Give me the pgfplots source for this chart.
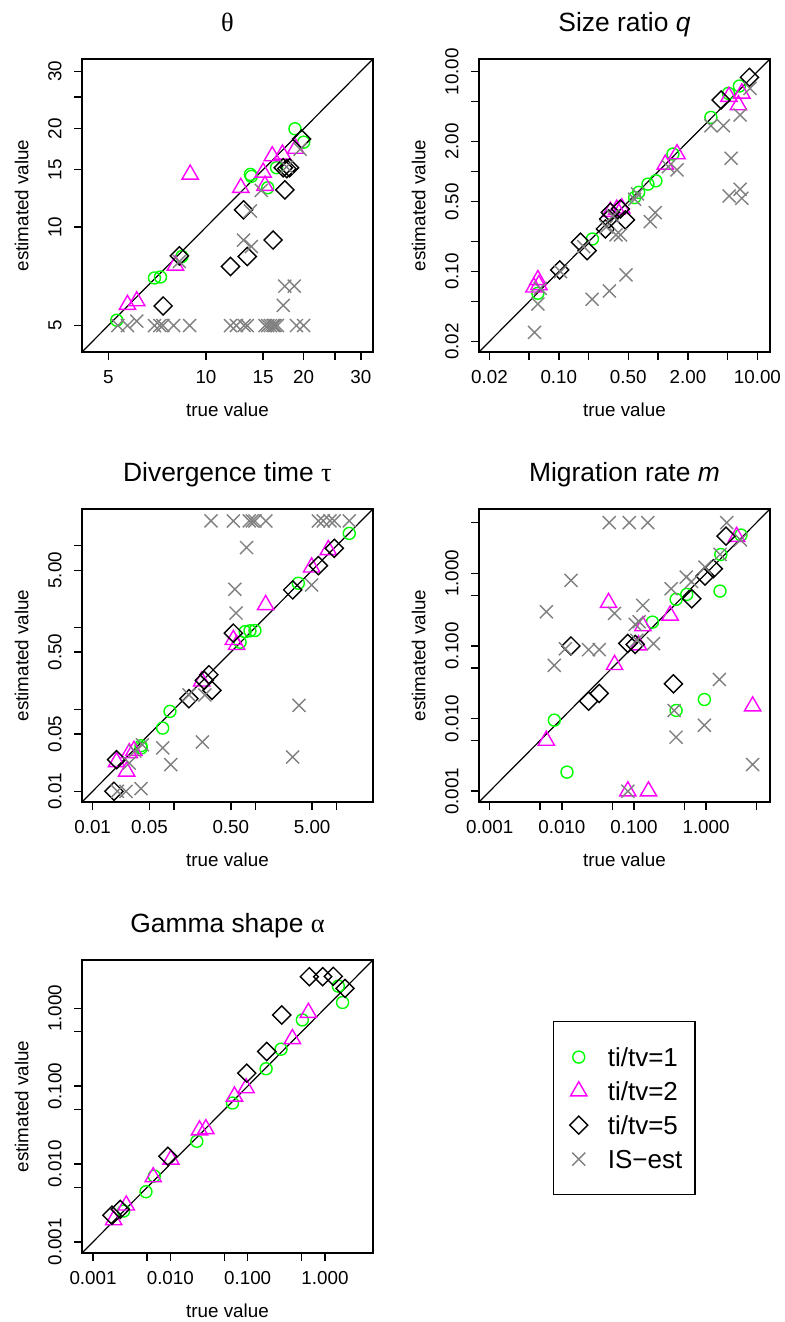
\documentclass[border=0pt]{standalone}
\usepackage{fontspec}
\setmainfont{Liberation Sans}
\newfontfamily\greekfont{Liberation Serif}
\usepackage{pgfplots}
\pgfplotsset{compat=1.18}

\definecolor{rgreen}{RGB}{0,255,0}
\definecolor{rmagenta}{RGB}{255,0,255}
\definecolor{rgrey}{RGB}{128,128,128}

\newcommand\ticksize{\fontsize{9.4}{11}\selectfont}
\newcommand\titlesize{\fontsize{13.2}{15}\selectfont}

\pgfplotsset{
  every axis/.append style={
    scale only axis, width=145.5pt, height=146.5pt,
    xmode=log, ymode=log,
    xminorticks=false, yminorticks=false,
    axis line style={line width=0.7pt},
    tick align=outside, tick pos=left,
    major tick length=4pt,
    every tick/.style={black, line width=0.7pt},
    tick label style={font=\ticksize, inner sep=0pt},
    xticklabel style={anchor=north},
    yticklabel style={rotate=90, anchor=south},
    xticklabel shift=5pt,
    yticklabel shift=6pt,
    label style={font=\ticksize},
    xlabel={true value}, ylabel={estimated value},
    xlabel style={at={(axis description cs:0.5,-0.2197)}, anchor=base},
    ylabel style={at={(axis description cs:-0.1842,0.5)}, anchor=base},
    every axis title shift=0pt,
    title style={at={(axis description cs:0.5,1.0952)}, anchor=base, font=\titlesize},
  },
  diag/.style={black, line width=0.6pt, no marks},
  cA/.style={only marks, mark=o, mark size=3pt, color=rgreen, line width=0.7pt},
  cB/.style={only marks, mark=triangle, mark size=4.7pt, color=rmagenta, line width=0.7pt},
  cC/.style={only marks, mark=square, mark size=3.2pt, mark options={rotate=45}, color=black, line width=0.7pt},
  cD/.style={only marks, mark=x, mark size=4.6pt, color=rgrey, line width=0.7pt},
}

\begin{document}
\begin{tikzpicture}
\useasboundingbox (0,0) rectangle (392pt,661pt);

% theta
\begin{axis}[at={(41pt,485pt)}, anchor=south west,
  xmin=4.15, xmax=32.7, ymin=4.15, ymax=32.7,
  xtick={5,10,15,20,25,30}, xticklabels={5,10,15,20,,30},
  ytick={5,10,15,20,25,30}, yticklabels={5,10,15,20,,30},
  title={{\greekfont θ}}]
\addplot[diag] coordinates {(1,1) (100,100)};
\addplot[cA] coordinates {(5.31,5.19) (6.94,6.99) (7.24,7.04) (8.43,8.13) (13.7,14.5) (13.8,14.3) (15.5,13.2) (16.5,15.2) (18.8,20.0) (20.0,18.2)};
\addplot[cB] coordinates {(5.73,5.79) (6.12,5.94) (8.05,7.64) (8.94,14.5) (12.8,13.2) (15.0,14.7) (15.2,13.4) (16.0,16.5) (17.2,16.7) (18.9,17.4)};
\addplot[cC] coordinates {(7.38,5.74) (8.28,8.17) (11.9,7.58) (13.05,11.3) (13.4,8.13) (16.1,9.13) (17.5,13.0) (17.3,15.2) (17.75,15.1) (18.1,15.2) (19.7,18.6)};
\addplot[cD] coordinates {(5.35,5.0) (5.73,5.0) (6.12,5.16) (6.94,5.0) (7.21,5.0) (7.37,5.0) (7.95,5.0) (8.9,5.0) (11.9,5.0) (12.4,5.0) (13.1,5.0) (13.4,5.0) (15.2,5.0) (15.5,5.0) (15.8,5.0) (16.1,5.0) (16.3,5.0) (16.6,5.0) (19.0,5.0) (20.0,5.0) (17.3,5.76) (17.5,6.6) (18.7,6.6) (13.05,9.13) (13.8,8.72) (13.7,11.2) (8.28,7.85) (14.8,12.95) (17.7,15.3) (19.5,17.3)};
\end{axis}

% size ratio q
\begin{axis}[at={(239.5pt,485pt)}, anchor=south west,
  xmin=0.0157, xmax=13.4, ymin=0.0157, ymax=13.4,
  xtick={0.02,0.05,0.1,0.2,0.5,1,2,5,10}, xticklabels={0.02,,0.10,,0.50,,2.00,,10.00},
  ytick={0.02,0.05,0.1,0.2,0.5,1,2,5,10}, yticklabels={0.02,,0.10,,0.50,,2.00,,10.00},
  title={Size ratio \textit{q}}]
\addplot[diag] coordinates {(0.001,0.001) (100,100)};
\addplot[cA] coordinates {(0.0615,0.0607) (0.218,0.212) (0.58,0.55) (0.637,0.621) (0.79,0.75) (0.95,0.81) (1.41,1.50) (3.40,3.49) (5.11,6.07) (6.59,7.19)};
\addplot[cB] coordinates {(0.0561,0.0697) (0.0615,0.0826) (0.063,0.0736) (0.330,0.398) (0.383,0.418) (0.431,0.43) (1.18,1.18) (1.55,1.50) (5.17,5.62) (6.44,4.64) (6.97,6.07)};
\addplot[cC] coordinates {(0.102,0.104) (0.165,0.197) (0.193,0.162) (0.294,0.267) (0.318,0.336) (0.330,0.392) (0.417,0.423) (0.468,0.329) (4.31,5.21) (8.32,8.78)};
\addplot[cD] coordinates {(0.0569,0.0247) (0.0615,0.0475) (0.216,0.0529) (0.323,0.064) (0.475,0.0926) (0.377,0.233) (0.417,0.233) (0.834,0.316) (0.935,0.389) (5.2,0.571) (6.7,0.665) (6.97,0.541) (5.43,1.36) (3.4,2.88) (4.55,2.88) (6.7,3.69) (8.44,6.81) (1.55,1.04) (1.27,1.12) (0.58,0.53) (0.104,0.10) (0.178,0.178) (0.30,0.28) (0.065,0.068) (0.35,0.36) (0.62,0.60)};
\end{axis}

% divergence time tau
\begin{axis}[at={(41pt,260pt)}, anchor=south west,
  xmin=0.0074, xmax=28, ymin=0.0074, ymax=28,
  xtick={0.01,0.05,0.1,0.5,1,5,10}, xticklabels={0.01,0.05,,0.50,,5.00,},
  ytick={0.01,0.05,0.1,0.5,1,5,10}, yticklabels={0.01,0.05,,0.50,,5.00,},
  title={Divergence time {\greekfont τ}}]
\addplot[diag] coordinates {(0.001,0.001) (100,100)};
\addplot[cA] coordinates {(0.0393,0.0360) (0.0398,0.0339) (0.0726,0.0591) (0.0893,0.0945) (0.65,0.66) (0.75,0.89) (0.86,0.91) (0.99,0.919) (3.38,3.47) (14.3,14.1)};
\addplot[cB] coordinates {(0.0197,0.0228) (0.0262,0.0175) (0.0282,0.0293) (0.0322,0.0313) (0.219,0.220) (0.537,0.708) (0.589,0.615) (1.34,1.89) (4.93,5.44) (7.9,8.85)};
\addplot[cC] coordinates {(0.0183,0.0100) (0.0197,0.0243) (0.153,0.135) (0.236,0.226) (0.269,0.265) (0.293,0.171) (0.537,0.853) (2.88,2.88) (5.96,5.70) (9.35,9.27)};
\addplot[cD] coordinates {(0.285,20) (0.537,20) (0.843,20) (0.918,20) (0.99,20) (1.35,20) (5.96,20) (6.85,20) (8.28,20) (9.35,20) (14.3,20) (0.782,9.45) (0.56,2.93) (0.58,1.50) (4.93,3.31) (3.44,0.112) (2.88,0.0262) (0.223,0.040) (0.0726,0.0339) (0.0913,0.0211) (0.0393,0.0108) (0.0257,0.0100) (0.0201,0.0100) (0.0282,0.0221) (0.153,0.150) (0.24,0.15) (0.041,0.037) (0.033,0.031)};
\end{axis}

% migration rate m
\begin{axis}[at={(239.5pt,260pt)}, anchor=south west,
  xmin=0.00071, xmax=7.7, ymin=0.00071, ymax=7.7,
  xtick={0.001,0.005,0.01,0.05,0.1,0.5,1,5}, xticklabels={0.001,,0.010,,0.100,,1.000,},
  ytick={0.001,0.005,0.01,0.05,0.1,0.5,1,5}, yticklabels={0.001,,0.010,,0.100,,1.000,},
  title={Migration rate \textit{m}}]
\addplot[diag] coordinates {(0.0001,0.0001) (100,100)};
\addplot[cA] coordinates {(0.00786,0.00951) (0.01178,0.00183) (0.1806,0.213) (0.384,0.438) (0.384,0.01294) (0.539,0.513) (0.947,0.0183) (1.56,0.570) (1.6,1.82) (3.05,3.37)};
\addplot[cB] coordinates {(0.00609,0.00499) (0.0444,0.394) (0.0538,0.0551) (0.0822,0.001) (0.159,0.001) (0.1156,0.1028) (0.1328,0.188) (0.317,0.264) (2.65,3.20) (4.42,0.0148)};
\addplot[cC] coordinates {(0.01336,0.100) (0.02347,0.01738) (0.03296,0.02217) (0.0822,0.1084) (0.1039,0.105) (0.3526,0.0301) (0.632,0.447) (0.968,0.918) (1.26,1.158) (1.89,3.26)};
\addplot[cD] coordinates {(0.0454,5) (0.0858,5) (0.1556,5) (1.93,5) (0.01336,0.80) (0.00609,0.296) (0.0538,0.281) (0.1328,0.362) (0.00786,0.054) (0.0112,0.0915) (0.0235,0.089) (0.033,0.089) (0.104,0.198) (0.118,0.215) (0.1864,0.108) (0.327,0.614) (0.53,0.889) (0.63,0.77) (0.968,1.22) (1.56,1.82) (3.0,2.9) (1.53,0.0346) (0.947,0.00812) (0.384,0.00555) (0.36,0.0129) (4.42,0.00233) (0.0822,0.001) (0.11,0.12)};
\end{axis}

% gamma shape alpha, with the legend
\begin{axis}[at={(41pt,34.5pt)}, anchor=south west,
  xmin=0.00072, xmax=4.18, ymin=0.00072, ymax=4.18,
  xtick={0.001,0.005,0.01,0.05,0.1,0.5,1}, xticklabels={0.001,,0.010,,0.100,,1.000},
  ytick={0.001,0.005,0.01,0.05,0.1,0.5,1}, yticklabels={0.001,,0.010,,0.100,,1.000},
  title={Gamma shape {\greekfont α}},
  legend style={at={(1.6186,0.7918)}, anchor=north west, draw=black, line width=0.7pt,
    fill=white, font=\fontsize{13}{15}\selectfont,
    inner xsep=8pt, inner ysep=13pt, row sep=7.6pt, column sep=10pt,
    nodes={inner sep=0pt, text height=9.4pt, text depth=0pt, text width=35.5pt}},
  legend cell align=left]
\addplot[diag, forget plot] coordinates {(0.0001,0.0001) (100,100)};
\addplot[cA] coordinates {(0.00249,0.00249) (0.00484,0.00441) (0.0062,0.0070) (0.0220,0.0196) (0.0637,0.0608) (0.1732,0.1675) (0.2704,0.299) (0.510,0.710) (1.488,1.93) (1.69,1.19)};
\addplot[cB] coordinates {(0.00185,0.00191) (0.00269,0.00295) (0.0060,0.0068) (0.01017,0.01144) (0.02384,0.0272) (0.0288,0.0282) (0.0675,0.074) (0.0955,0.0946) (0.379,0.4055) (0.610,0.881)};
\addplot[cC] coordinates {(0.00176,0.00220) (0.00225,0.00262) (0.0093,0.0126) (0.0974,0.147) (0.1766,0.279) (0.276,0.822) (0.628,2.55) (0.934,2.55) (1.28,2.58) (1.815,1.805)};
\addlegendimage{cD}
\legend{ti/tv=1, ti/tv=2, ti/tv=5, IS−est}
\end{axis}
\end{tikzpicture}
\end{document}
